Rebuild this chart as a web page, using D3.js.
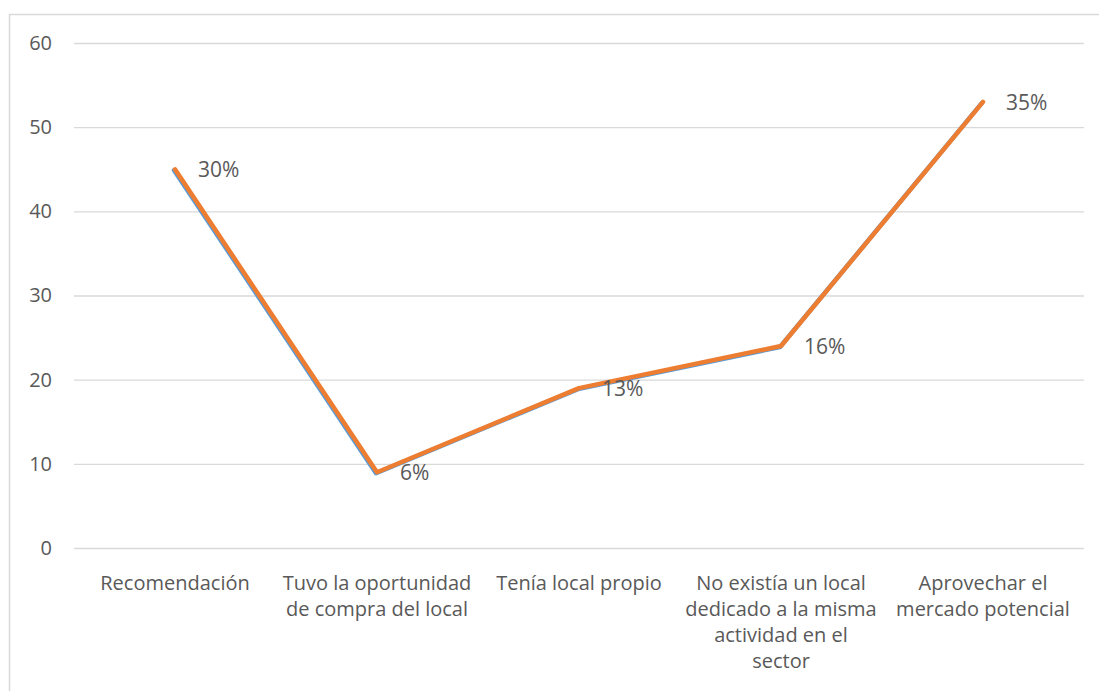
<!DOCTYPE html>
<html>
<head>
<meta charset="utf-8">
<script src="https://cdn.jsdelivr.net/npm/d3@7"></script>
<style>
  html, body { margin: 0; padding: 0; background: #fff; }
  svg { display: block; }
  text { font-family: "Open Sans", sans-serif; fill: #595959; }
</style>
</head>
<body>
<svg id="chart" width="1099" height="691"></svg>
<script>
// Motivos para abrir el local
const categories = [
  ["Recomendación"],
  ["Tuvo la oportunidad", "de compra del local"],
  ["Tenía local propio"],
  ["No existía un local", "dedicado a la misma", "actividad en el", "sector"],
  ["Aprovechar el", "mercado potencial"]
];
const frecuencia = [45, 9, 19, 24, 53];
const frecuenciaDup = [45, 9, 19, 24, 53];
const porcentajes = ["30%", "6%", "13%", "16%", "35%"];
const yTicks = [0, 10, 20, 30, 40, 50, 60];

const svg = d3.select("#chart");
const fontSize = 20;

// chart frame
svg.append("rect")
  .attr("x", 9.5).attr("y", 14.5)
  .attr("width", 1200).attr("height", 800)
  .attr("fill", "none").attr("stroke", "#d9d9d9").attr("stroke-width", 1.5);

const plotLeft = 74, plotRight = 1084, plotTop = 43, plotBottom = 548;

const x = d3.scaleBand().domain(d3.range(categories.length)).range([plotLeft, plotRight]);
const y = d3.scaleLinear().domain([0, 60]).range([plotBottom, plotTop]);
const cx = i => x(i) + x.bandwidth() / 2;

// horizontal gridlines + y labels
const yAxis = d3.axisLeft(y).tickValues(yTicks).tickSize(-(plotRight - plotLeft)).tickPadding(22);
const gy = svg.append("g").attr("transform", `translate(${plotLeft},0)`).call(yAxis);
gy.select(".domain").remove();
gy.selectAll(".tick line").attr("stroke", "#d9d9d9").attr("stroke-width", 1.3);
gy.selectAll(".tick text")
  .attr("font-size", fontSize).attr("fill", "#595959")
  .style("font-family", "'Open Sans', sans-serif");

// category labels (wrapped)
const gx = svg.append("g");
categories.forEach((lines, i) => {
  const t = gx.append("text")
    .attr("text-anchor", "middle")
    .attr("font-size", fontSize);
  lines.forEach((ln, j) => {
    t.append("tspan").attr("x", cx(i)).attr("y", 590 + j * 26).text(ln);
  });
});

const line = d3.line().x((d, i) => cx(i)).y(d => y(d));

// first series (mostly hidden beneath the second)
svg.append("path")
  .datum(frecuencia)
  .attr("d", line)
  .attr("transform", "translate(-1,1)")
  .attr("fill", "none").attr("stroke", "#5b9bd5")
  .attr("stroke-width", 4.5).attr("stroke-linejoin", "round").attr("stroke-linecap", "round");

svg.append("path")
  .datum(frecuenciaDup)
  .attr("d", line)
  .attr("fill", "none").attr("stroke", "#ed7d31")
  .attr("stroke-width", 4.5).attr("stroke-linejoin", "round").attr("stroke-linecap", "round");

// data labels to the right of each point
svg.append("g").selectAll("text")
  .data(frecuenciaDup)
  .join("text")
  .attr("x", (d, i) => cx(i) + 23)
  .attr("y", d => y(d) + 2)
  .attr("dominant-baseline", "middle")
  .attr("font-size", 21)
  .attr("fill", "#404040")
  .text((d, i) => porcentajes[i]);
</script>
</body>
</html>
